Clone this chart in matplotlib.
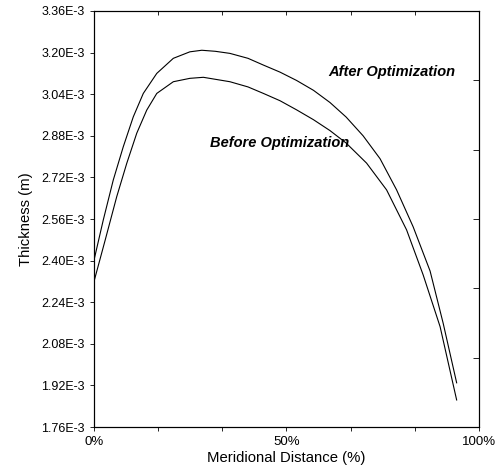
import matplotlib
matplotlib.use("Agg")
import matplotlib.pyplot as plt
import numpy as np

# meridional distance (%) and thickness (E-3 m)
after_x = [0, 2.4, 5.0, 7.6, 10.2, 12.8, 16.3, 20.6, 24.9, 28.0, 31.5, 35.3, 40.0, 44.0,
           48.3, 52.6, 57.0, 61.3, 65.5, 69.9, 74.3, 78.6, 82.9, 87.3, 90.7, 94.2]
after_y = [2.402, 2.556, 2.710, 2.838, 2.953, 3.043, 3.120, 3.178, 3.203, 3.209, 3.205, 3.197,
           3.178, 3.152, 3.125, 3.093, 3.055, 3.008, 2.952, 2.880, 2.792, 2.672, 2.530,
           2.360, 2.159, 1.930]

before_x = [0, 2.9, 5.9, 8.5, 11.1, 13.7, 16.3, 20.6, 24.9, 28.4, 35.3, 40.0, 44.0,
            48.3, 52.6, 57.0, 61.3, 65.5, 70.8, 76.0, 81.2, 85.5, 89.9, 94.2]
before_y = [2.320, 2.479, 2.646, 2.774, 2.890, 2.979, 3.043, 3.088, 3.101, 3.105, 3.088,
            3.068, 3.043, 3.015, 2.980, 2.942, 2.900, 2.852, 2.775, 2.672, 2.518, 2.345,
            2.146, 1.864]

y_ticks = [1.76, 1.92, 2.08, 2.24, 2.40, 2.56, 2.72, 2.88, 3.04, 3.20, 3.36]
x_ticks = [0, 50, 100]
x_tick_labels = ["0%", "50%", "100%"]

plt.rcParams["font.family"] = ["Liberation Sans", "DejaVu Sans"]

fig = plt.figure(figsize=(4.98, 4.72), dpi=100)
ax = fig.add_axes([0.1888, 0.0953, 0.773, 0.8814])

ax.plot(after_x, np.array(after_y) * 1e-3, color="black", lw=0.8)
ax.plot(before_x, np.array(before_y) * 1e-3, color="black", lw=0.8)

ax.set_xlim(0, 100)
ax.set_ylim(1.76e-3, 3.36e-3)
ax.set_yticks([v * 1e-3 for v in y_ticks])
ax.set_yticklabels([f"{v:.2f}E-3" for v in y_ticks], fontsize=9)
ax.set_xticks(x_ticks)
ax.set_xticklabels(x_tick_labels, fontsize=9.5)
ax.set_xticks([100 / 6, 200 / 6, 400 / 6, 500 / 6], minor=True)
ax.tick_params(axis="both", which="both", direction="out", length=3, width=0.6)

ax.set_xlabel("Meridional Distance (%)", fontsize=10.7, labelpad=2)
ax.set_ylabel("Thickness (m)", fontsize=10.7, labelpad=6)

for s in ax.spines.values():
    s.set_linewidth(0.7)

# top / right frame ticks point inward, right side has its own spacing
top = ax.twiny()
top.set_xlim(0, 100)
top.set_xticks([100 / 6 * i for i in range(1, 6)])
top.tick_params(axis="x", direction="in", length=3, width=0.6, labeltop=False)
right = ax.twinx()
right.set_ylim(0, 6)
right.set_yticks(range(1, 6))
right.tick_params(axis="y", direction="in", length=4, width=0.6, labelright=False)

ax.annotate("After Optimization", xy=(60.8, 3.125e-3), fontsize=10.5,
            fontweight="bold", fontstyle="italic", ha="left", va="center")
ax.annotate("Before Optimization", xy=(30.1, 2.852e-3), fontsize=10.5,
            fontweight="bold", fontstyle="italic", ha="left", va="center")

fig.savefig("out.png", dpi=100)
